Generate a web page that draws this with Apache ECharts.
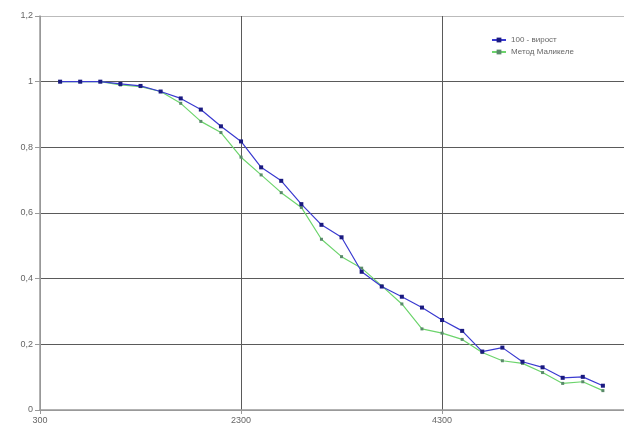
<!DOCTYPE html>
<html>
<head>
<meta charset="utf-8">
<script src="https://cdn.jsdelivr.net/npm/echarts@6/dist/echarts.min.js"></script>
<style>html,body{margin:0;padding:0;background:#fff}#c{width:624px;height:432px}</style>
</head>
<body>
<div id="c"></div>
<script>
const xValues = [500,700,900,1100,1300,1500,1700,1900,2100,2300,2500,2700,2900,3100,3300,3500,3700,3900,4100,4300,4500,4700,4900,5100,5300,5500,5700,5900];
const seriesBlue = [1.0,1.0,1.0,0.993,0.987,0.97,0.949,0.915,0.864,0.818,0.739,0.698,0.627,0.564,0.526,0.421,0.376,0.345,0.312,0.274,0.241,0.178,0.190,0.147,0.130,0.098,0.101,0.074];
const seriesGreen = [1.0,1.0,1.0,0.99,0.985,0.97,0.934,0.879,0.845,0.770,0.716,0.662,0.617,0.520,0.467,0.432,0.378,0.323,0.247,0.234,0.215,0.175,0.150,0.142,0.114,0.081,0.086,0.059];
const seriesNames = ['100 - вирост', 'Метод Маликеле'];
const xTicks = {min: 300, max: 6110, interval: 2000};
const yTicks = {min: 0, max: 1.2, interval: 0.2};

const chart = echarts.init(document.getElementById('c'), null, {renderer: 'canvas'});
const pair = (ys) => xValues.map((x, i) => [x, ys[i]]);
chart.setOption({
  animation: false,
  backgroundColor: '#fff',
  grid: {left: 40, right: 0, top: 16, bottom: 22, containLabel: false},
  legend: {
    orient: 'vertical', left: 486, top: 31, itemWidth: 14, itemHeight: 6, itemGap: 4,
    textStyle: {fontSize: 8, color: '#666', fontFamily: 'Liberation Sans'},
    data: seriesNames
  },
  xAxis: {
    type: 'value', min: xTicks.min, max: xTicks.max, interval: xTicks.interval,
    axisLine: {lineStyle: {color: '#999', width: 1.5}},
    axisTick: {show: true, length: 4, lineStyle: {color: '#999'}},
    axisLabel: {fontSize: 9, color: '#666', fontFamily: 'Liberation Sans', margin: 6, showMaxLabel: false,
      formatter: v => String(v)},
    splitLine: {show: true, lineStyle: {color: ['#999', '#5a5a5a', '#5a5a5a', '#5a5a5a'], width: 1}}
  },
  yAxis: {
    type: 'value', min: yTicks.min, max: yTicks.max, interval: yTicks.interval,
    axisLine: {show: true, lineStyle: {color: '#999', width: 1.5}},
    axisTick: {show: true, length: 5, lineStyle: {color: '#999'}},
    axisLabel: {fontSize: 9, color: '#666', fontFamily: 'Liberation Sans', margin: 7,
      formatter: v => String(+v.toFixed(1)).replace('.', ',')},
    splitLine: {show: true, lineStyle: {color: ['#999', '#5a5a5a', '#5a5a5a', '#5a5a5a', '#5a5a5a', '#5a5a5a', '#bbb'], width: 1}}
  },
  series: [
    {
      name: seriesNames[0], type: 'line', data: pair(seriesBlue),
      symbol: 'rect', symbolSize: 4, z: 3,
      lineStyle: {color: '#3a3ad0', width: 1.2},
      itemStyle: {color: '#1a1a80'}
    },
    {
      name: seriesNames[1], type: 'line', data: pair(seriesGreen),
      symbol: 'rect', symbolSize: 3, z: 2,
      lineStyle: {color: '#6cd46c', width: 1.2},
      itemStyle: {color: '#5a8a6a'}
    }
  ]
});
</script>
</body>
</html>
